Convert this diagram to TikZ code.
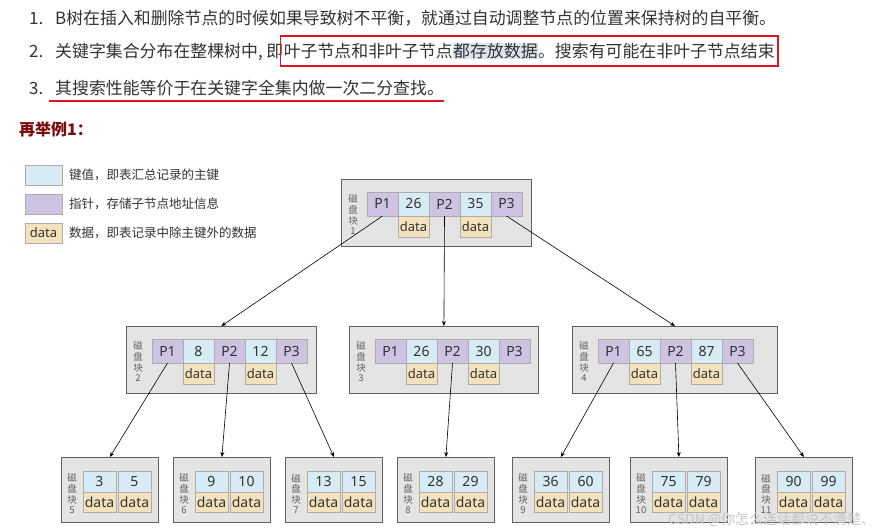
\documentclass[tikz,border=0pt]{standalone}
\usepackage{fontspec}
\setmainfont{Noto Sans}
\newfontfamily\cjk{Noto Sans CJK SC}
\usetikzlibrary{arrows.meta,positioning,calc,fit}
\definecolor{keyc}{HTML}{D6EBF3}
\definecolor{ptrc}{HTML}{CFC3E3}
\definecolor{datc}{HTML}{F3E2BC}
\definecolor{blkc}{HTML}{E4E4E4}
\definecolor{redc}{HTML}{E0141E}
\definecolor{titlec}{HTML}{7A0C0C}
\definecolor{hlc}{HTML}{DCE4EE}
\definecolor{txtc}{HTML}{333333}

% inner block: name, x, y, width, number, key 1, key 2
\newcommand\bblock[7]{%
 \node[blk,minimum width=#4,minimum height=67] (#1) at (#2,#3) {};
 \node[lbl] (#1n) at ($(#1.west)+(12,2)$) {磁\\盘\\块\\#5};
 \node[ptr,anchor=north west] (#1p1) at ($(#1.north west)+(26,13)$) {P1};
 \node[key,right=0pt of #1p1] (#1k1) {#6};
 \node[ptr,right=0pt of #1k1] (#1p2) {P2};
 \node[key,right=0pt of #1p2] (#1k2) {#7};
 \node[ptr,right=0pt of #1k2] (#1p3) {P3};
 \node[dat,below=0pt of #1k1] (#1d1) {data};
 \node[dat,below=0pt of #1k2] (#1d2) {data};}
% leaf block: name, x, number, key 1, key 2
\newcommand\bleaf[5]{%
 \node[blk,minimum width=97,minimum height=65] (#1) at (#2,457) {};
 \node[lbl] (#1n) at ($(#1.west)+(11,4)$) {磁\\盘\\块\\#3};
 \node[lkey,anchor=north west] (#1k1) at ($(#1.north west)+(22,14)$) {#4};
 \node[lkey,right=2pt of #1k1] (#1k2) {#5};
 \node[ldat,below=0pt of #1k1] (#1d1) {data};
 \node[ldat,below=0pt of #1k2] (#1d2) {data};}

\begin{document}
\begin{tikzpicture}[x=1pt,y=-1pt,
 every node/.style={text=txtc},
 line/.style={anchor=base west,inner sep=0,font=\cjk\fontsize{16.9}{20}\selectfont},
 blk/.style={draw=gray!75!black,fill=blkc,line width=0.8pt,anchor=north west,inner sep=0},
 lbl/.style={inner sep=0,align=center,text=gray!75!black,font=\cjk\fontsize{9.5}{10.6}\selectfont},
 cell/.style={draw=gray!65,inner sep=0,outer sep=0,font=\fontsize{14}{16}\selectfont},
 ptr/.style={cell,fill=ptrc,minimum width=31,minimum height=24},
 key/.style={cell,fill=keyc,minimum width=31,minimum height=24},
 dat/.style={cell,fill=datc,minimum width=31,minimum height=21,font=\fontsize{13}{15}\selectfont},
 lkey/.style={cell,fill=keyc,minimum width=33,minimum height=21},
 ldat/.style={cell,fill=datc,minimum width=33,minimum height=20},
 lgbox/.style={cell,anchor=north west,minimum width=37,minimum height=20,font=\fontsize{13}{15}\selectfont},
 lgtxt/.style={inner sep=0,font=\cjk\fontsize{12.5}{15}\selectfont},
 arr/.style={-{Stealth[length=5pt,width=4pt]},line width=0.6pt}]
\useasboundingbox[fill=white] (0,0) rectangle (885,532);
% text lines
\node[line] (n1) at (29,24.5) {1.};
\node[line] (l1) at (55,24.5) {B树在插入和删除节点的时候如果导致树不平衡，就通过自动调整节点的位置来保持树的自平衡。};
\node[line] (n2) at (29,57.5) {2.};
\node[line] (l2a) at (55,57.5) {关键字集合分布在整棵树中, 即};
\node[line] (l2b) at (l2a.base east) {叶子节点和非叶子节点};
\node[line,fill=hlc] (l2c) at (l2b.base east) {都存放数据};
\node[line] (l2d) at (l2c.base east) {。搜索有可能在非叶子节点结束};
\node[draw=redc,line width=1.5pt,inner xsep=3pt,inner ysep=7pt,fit=(l2b)(l2d)] (mark) {};
\node[line] (n3) at (29,94.5) {3.};
\node[line] (l3) at (55,94.5) {其搜索性能等价于在关键字全集内做一次二分查找。};
\draw[redc,line width=1.5pt] ($(l3.south west)+(-6,5)$) -- ($(l3.south east)+(0,5)$);
\node[anchor=west,inner sep=0,text=titlec,font=\cjk\bfseries\fontsize{16}{18}\selectfont] (title) at (19,129) {再举例1：};
% legend
\node[lgbox,fill=keyc] (lg1) at (25,165) {};
\node[lgtxt,right=7pt of lg1] (lt1) {键值，即表汇总记录的主键};
\node[lgbox,fill=ptrc] (lg2) at (25,194) {};
\node[lgtxt,right=7pt of lg2] (lt2) {指针，存储子节点地址信息};
\node[lgbox,fill=datc] (lg3) at (25,223) {data};
\node[lgtxt,right=7pt of lg3] (lt3) {数据，即表记录中除主键外的数据};
% tree
\bblock{r}{341}{179}{190}{1}{26}{35}
\bblock{ma}{126}{326}{190}{2}{8}{12}
\bblock{mb}{349}{326}{189}{3}{26}{30}
\bblock{mc}{572}{326}{205}{4}{65}{87}
\bleaf{la}{61}{5}{3}{5}
\bleaf{lb}{173}{6}{9}{10}
\bleaf{lc}{285}{7}{13}{15}
\bleaf{ld}{397}{8}{28}{29}
\bleaf{le}{512}{9}{36}{60}
\bleaf{lf}{630}{10}{75}{79}
\bleaf{lg}{755}{11}{90}{99}
\draw[arr] (rp1.south)--(ma.north);\draw[arr] (rp2.south)--(mb.north);\draw[arr] (rp3.south)--(mc.north);
\draw[arr] (map1.south)--(la.north);\draw[arr] (map2.south)--(lb.north);\draw[arr] (map3.south)--(lc.north);
\draw[arr] (mbp2.south)--(ld.north);
\draw[arr] (mcp1.south)--(le.north);\draw[arr] (mcp2.south)--(lf.north);\draw[arr] (mcp3.south)--(lg.north);
\node[anchor=west,inner sep=0,text=gray!45,font=\cjk\fontsize{14}{16}\selectfont] (wm) at (668,520) {CSDN @你怎么连话都说不清楚、};
\end{tikzpicture}
\end{document}
